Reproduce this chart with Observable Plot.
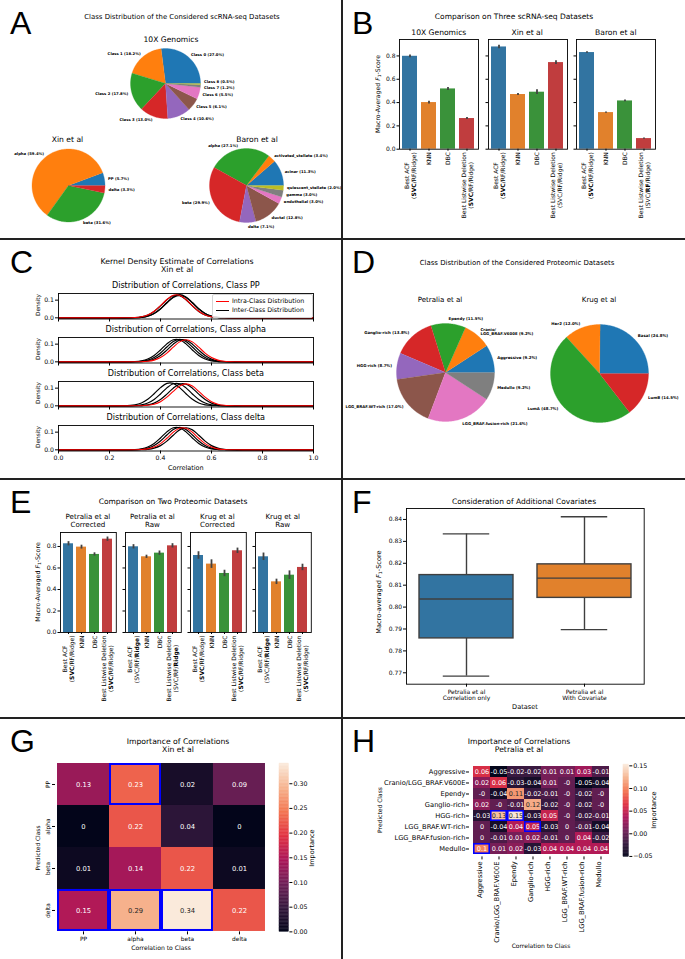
<!DOCTYPE html>
<html><head><meta charset="utf-8">
<script src="https://cdn.jsdelivr.net/npm/d3@7"></script>
<script src="https://cdn.jsdelivr.net/npm/@observablehq/plot@0.6"></script>
<style>
body{margin:0;background:#fff}
#root{position:relative;width:685px;height:959px;overflow:hidden;font-family:"DejaVu Sans",sans-serif;color:#000;background:#fff}
.t{position:absolute;white-space:pre;transform:translate(-50%,-50%);text-align:center;line-height:1.15}
.t.rot{transform:translate(-50%,-50%) rotate(-90deg)}
.letter{position:absolute;font-family:"Liberation Sans",Arial,sans-serif;font-size:32px;line-height:1}
.hl{position:absolute;background:#222}
.sub1{font-size:0.7em;vertical-align:-0.25em}
</style></head>
<body><div id="root"></div>
<script>
// ================= DATA =================
// Panel A
const tenxClasses = ["Class 0","Class 1","Class 2","Class 3","Class 4","Class 5","Class 6","Class 7","Class 8"];
const tenxShares = [27.0,18.2,17.8,13.0,10.6,6.1,5.5,1.2,0.5];
const xinClasses = ["PP","alpha","beta","delta"];
const xinShares = [5.7,59.4,31.6,3.3];
const baronClasses = ["acinar","activated_stellate","alpha","beta","delta","ductal","endothelial","gamma","quiescent_stellate"];
const baronShares = [11.3,3.4,27.1,29.9,7.1,12.8,3.0,3.0,2.0];
// Panel D
const petraliaClasses = ["Aggressive","Cranio/\nLGG_BRAF.V600E","Ependy","Ganglio-rich","HGG-rich","LGG_BRAF.WT-rich","LGG_BRAF.fusion-rich","Medullo"];
const petraliaShares = [9.2,9.2,11.5,13.8,8.7,17.0,21.6,9.2];
const krugClasses = ["Basal","Her2","LumA","LumB"];
const krugShares = [24.8,12.0,48.7,14.5];
// Panel B
const methods = ["Best ACF","KNN","DBC","Best Listwise Deletion"];
const barTicks = [0,0.2,0.4,0.6,0.8];
const scDatasets = ["10X Genomics","Xin et al","Baron et al"];
const scMeans = [[0.797,0.400,0.517,0.263],[0.877,0.469,0.489,0.743],[0.829,0.314,0.414,0.091]];
const scErrs = [[0.012,0.012,0.013,0.008],[0.015,0.008,0.020,0.016],[0.007,0.006,0.008,0.005]];
const scTickLabels = [
  ["Best ACF\n(**SVC**/RF/Ridge)","KNN","DBC","Best Listwise Deletion\n(**SVC**/RF/Ridge)"],
  ["Best ACF\n(**SVC**/RF/Ridge)","KNN","DBC","Best Listwise Deletion\n(SVC/RF/Ridge)"],
  ["Best ACF\n(**SVC**/RF/Ridge)","KNN","DBC","Best Listwise Deletion\n(SVC/**RF**/Ridge)"]];
// Panel E
const protDatasets = ["Petralia et al\nCorrected","Petralia et al\nRaw","Krug et al\nCorrected","Krug et al\nRaw"];
const protMeans = [[0.825,0.794,0.726,0.868],[0.797,0.704,0.738,0.806],[0.716,0.636,0.549,0.760],[0.704,0.471,0.533,0.605]];
const protErrs = [[0.020,0.018,0.015,0.020],[0.020,0.015,0.020,0.020],[0.035,0.040,0.030,0.025],[0.035,0.025,0.040,0.030]];
const protTickLabels = [
  ["Best ACF\n(**SVC**/RF/Ridge)","KNN","DBC","Best Listwise Deletion\n(**SVC**/RF/Ridge)"],
  ["Best ACF\n(SVC/RF/**Ridge**)","KNN","DBC","Best Listwise Deletion\n(SVC/RF/**Ridge**)"],
  ["Best ACF\n(**SVC**/RF/Ridge)","KNN","DBC","Best Listwise Deletion\n(**SVC**/RF/Ridge)"],
  ["Best ACF\n(SVC/RF/**Ridge**)","KNN","DBC","Best Listwise Deletion\n(**SVC**/RF/Ridge)"]];
// Panel C (kernel density curves read at these correlation values; first series = intra-class)
const kdeClasses = ["PP","alpha","beta","delta"];
const kdeX = [0,0.2,0.25,0.3,0.325,0.35,0.375,0.4,0.425,0.45,0.475,0.5,0.525,0.55,0.575,0.6,0.625,0.65,0.7,0.75,1];
const kdePP = [
  [0,0,0.0001,0.0017,0.0058,0.0161,0.0369,0.0686,0.1039,0.1277,0.1277,0.1039,0.0686,0.0369,0.0161,0.0058,0.0017,0.0004,0,0,0],
  [0,0,0,0.0008,0.0031,0.0100,0.0250,0.0517,0.0867,0.1182,0.1310,0.1182,0.0867,0.0517,0.0250,0.0100,0.0031,0.0008,0,0,0],
  [0,0,0.0001,0.0017,0.0057,0.0159,0.0364,0.0676,0.1023,0.1258,0.1258,0.1023,0.0676,0.0364,0.0159,0.0057,0.0017,0.0004,0,0,0],
  [0,0,0,0.0008,0.0030,0.0097,0.0243,0.0502,0.0841,0.1146,0.1270,0.1146,0.0841,0.0502,0.0243,0.0097,0.0030,0.0008,0,0,0]];
const kdeAlpha = [
  [0,0,0,0.0002,0.0008,0.0030,0.0095,0.0239,0.0494,0.0828,0.1128,0.1250,0.1128,0.0828,0.0494,0.0239,0.0095,0.0030,0.0002,0,0],
  [0,0,0.0001,0.0017,0.0056,0.0157,0.0361,0.0671,0.1015,0.1248,0.1248,0.1015,0.0671,0.0361,0.0157,0.0056,0.0017,0.0004,0,0,0],
  [0,0,0,0.0008,0.0030,0.0097,0.0243,0.0502,0.0841,0.1146,0.1270,0.1146,0.0841,0.0502,0.0243,0.0097,0.0030,0.0008,0,0,0],
  [0,0,0,0.0004,0.0016,0.0055,0.0155,0.0355,0.0660,0.0999,0.1229,0.1229,0.0999,0.0660,0.0355,0.0155,0.0055,0.0016,0.0001,0,0]];
const kdeBeta = [
  [0,0,0,0.0002,0.0007,0.0030,0.0094,0.0237,0.0490,0.0821,0.1118,0.1240,0.1118,0.0821,0.0490,0.0237,0.0094,0.0030,0.0002,0,0],
  [0,0,0.0004,0.0057,0.0160,0.0367,0.0681,0.1031,0.1268,0.1268,0.1031,0.0681,0.0367,0.0160,0.0057,0.0017,0.0004,0.0001,0,0,0],
  [0,0,0.0001,0.0017,0.0056,0.0157,0.0361,0.0671,0.1015,0.1248,0.1248,0.1015,0.0671,0.0361,0.0157,0.0056,0.0017,0.0004,0,0,0],
  [0,0,0,0.0004,0.0016,0.0055,0.0155,0.0355,0.0660,0.0999,0.1229,0.1229,0.0999,0.0660,0.0355,0.0155,0.0055,0.0016,0.0001,0,0]];
const kdeDelta = [
  [0,0,0,0.0004,0.0016,0.0055,0.0154,0.0353,0.0655,0.0991,0.1219,0.1219,0.0991,0.0655,0.0353,0.0154,0.0055,0.0016,0.0001,0,0],
  [0,0,0.0001,0.0017,0.0056,0.0157,0.0361,0.0671,0.1015,0.1248,0.1248,0.1015,0.0671,0.0361,0.0157,0.0056,0.0017,0.0004,0,0,0],
  [0,0,0,0.0008,0.0030,0.0097,0.0243,0.0502,0.0841,0.1146,0.1270,0.1146,0.0841,0.0502,0.0243,0.0097,0.0030,0.0008,0,0,0],
  [0,0,0,0.0002,0.0008,0.0030,0.0095,0.0239,0.0494,0.0828,0.1128,0.1250,0.1128,0.0828,0.0494,0.0239,0.0095,0.0030,0.0002,0,0]];
const kdeTicksX = [0,0.2,0.4,0.6,0.8,1.0];
const kdeTicksY = [0,0.1];
// Panel F
const fGroups = ["Petralia et al\nCorrelation only","Petralia et al\nWith Covariate"];
const fLow = [0.7685,0.7897];
const fQ1 = [0.7857,0.8042];
const fMed = [0.8037,0.8132];
const fQ3 = [0.8146,0.8195];
const fHigh = [0.8334,0.8412];
const fTicks = [0.77,0.78,0.79,0.80,0.81,0.82,0.83,0.84];
// Panel G
const gClasses = ["PP","alpha","beta","delta"];
const gValues = [
  [0.13,0.23,0.02,0.09],
  [0,0.22,0.04,0],
  [0.01,0.14,0.22,0.01],
  [0.15,0.29,0.34,0.22]];
const gHighlights = [["PP","alpha"],["delta","PP"],["delta","alpha"],["delta","beta"]];
const gBarTicks = [0,0.05,0.10,0.15,0.20,0.25,0.30];
// Panel H
const hClasses = ["Aggressive","Cranio/LGG_BRAF.V600E","Ependy","Ganglio-rich","HGG-rich","LGG_BRAF.WT-rich","LGG_BRAF.fusion-rich","Medullo"];
const hValues = [
  [0.06,-0.05,-0.02,-0.02,0.01,0.01,0.03,-0.01],
  [0.02,0.06,-0.03,-0.04,0.01,-0,-0.05,-0.04],
  [-0,-0.04,0.11,-0.02,-0.01,-0,-0.02,-0],
  [0.02,-0,-0.01,0.12,-0.02,-0,-0.02,-0],
  [-0.03,0.13,0.15,-0.03,0.05,-0,-0.02,-0.01],
  [0,-0.04,0.04,0.05,-0.03,0,-0.01,-0.04],
  [0,-0.01,0.01,0.02,-0.01,0,0.04,-0.02],
  [0.1,0.01,0.02,-0.03,0.04,0.04,0.04,0.04]];
const hHighlights = [["HGG-rich","Cranio/LGG_BRAF.V600E"],["HGG-rich","Ependy"],["LGG_BRAF.WT-rich","Ganglio-rich"],["Medullo","Aggressive"]];
const hBarTicks = [-0.05,0,0.05,0.10,0.15];

// ================= STYLE =================
const tab10 = ["#1f77b4","#ff7f0e","#2ca02c","#d62728","#9467bd","#8c564b","#e377c2","#7f7f7f","#bcbd22","#17becf"];
const deep = ["#3274a1","#e1812c","#3a923a","#c03d3e"];
const rocketStops = ["#03051a","#35193e","#701f57","#ad1759","#e13342","#f37651","#f6b48f","#faebdd"];
const rocketScale = d3.scaleLinear().domain(d3.range(8).map(i=>i/7)).range(rocketStops).interpolate(d3.interpolateRgb).clamp(true);
const rocket = t => rocketScale(t);

const root = document.getElementById("root");
const baseStyle = fs => ({fontFamily:"DejaVu Sans, sans-serif", fontSize: fs+"px", color:"#000", background:"transparent", overflow:"visible"});
function place(el, x, y){ el.style.position="absolute"; el.style.left=x+"px"; el.style.top=y+"px"; root.appendChild(el); return el; }
function txt(s, x, y, size, opts={}){
  const d=document.createElement("div"); d.className="t"+(opts.rot?" rot":"");
  d.style.left=x+"px"; d.style.top=y+"px"; d.style.fontSize=size+"px";
  if(opts.html) d.innerHTML=s; else d.textContent=s;
  if(opts.lh) d.style.lineHeight=opts.lh;
  root.appendChild(d); return d;
}
function letter(s, x, y){ const d=document.createElement("div"); d.className="letter"; d.textContent=s; d.style.left=x+"px"; d.style.top=y+"px"; root.appendChild(d); }
function hline(y){ const d=document.createElement("div"); d.className="hl"; d.style.left="0px"; d.style.top=y+"px"; d.style.width="685px"; d.style.height="1.6px"; root.appendChild(d); }
function vline(x){ const d=document.createElement("div"); d.className="hl"; d.style.left=x+"px"; d.style.top="0px"; d.style.width="1.6px"; d.style.height="959px"; root.appendChild(d); }
const NS="http://www.w3.org/2000/svg";
function richify(svg){
  svg.querySelectorAll("text, tspan").forEach(node=>{
    if(node.children.length) return;
    const s=node.textContent; if(!s.includes("**")) return;
    node.textContent="";
    s.split(/(\*\*[^*]+\*\*)/).forEach(part=>{
      if(!part) return;
      if(part.startsWith("**")){ const b=document.createElementNS(NS,"tspan"); b.setAttribute("font-weight","bold"); b.textContent=part.slice(2,-2); node.appendChild(b); }
      else node.appendChild(document.createTextNode(part));
    });
  });
}
function hangRotated(svg, pad){
  svg.querySelectorAll('g[aria-label="text"] > text').forEach(t=>{
    const m=/translate\(\s*([-\d.e]+)[ ,]+([-\d.e]+)\s*\)/.exec(t.getAttribute("transform")||"");
    if(!m) return;
    const w=t.getBBox().width;
    t.setAttribute("transform",`translate(${m[1]},${+m[2]+pad+w/2}) rotate(-90)`);
  });
}
function lum(c){ const {r,g,b}=d3.rgb(c); const f=v=>{v/=255; return v<=0.03928? v/12.92 : Math.pow((v+0.055)/1.055,2.4);}; return 0.2126*f(r)+0.7152*f(g)+0.0722*f(b); }
function annotColor(v, dom){ return lum(rocket((v-dom[0])/(dom[1]-dom[0])))>0.408 ? "#262626" : "#ffffff"; }
const fmtV = v => Object.is(v,-0) ? "-0" : String(v);

// ================= MARK HELPERS =================
function pie(p){
  const W=p.w, H=p.h, total=d3.sum(p.shares);
  let cum=0; const pts=[], labs=[];
  p.names.forEach((n,i)=>{
    const a0=cum/total*2*Math.PI; cum+=p.shares[i]; const a1=cum/total*2*Math.PI;
    const steps=Math.max(2,Math.ceil((a1-a0)/0.02));
    pts.push({i,x:0,y:0});
    for(let s=0;s<=steps;s++){ const a=a0+(a1-a0)*s/steps; pts.push({i,x:Math.cos(a),y:Math.sin(a)}); }
    const am=(a0+a1)/2;
    labs.push({t:`${n} (${p.shares[i].toFixed(1)}%)`, x:1.1*Math.cos(am), y:1.1*Math.sin(am), lines:n.split("\n").length});
  });
  // keep neighbouring small-slice labels on the same side from overlapping
  const gap=p.fs*1.75/p.r;
  [labs.filter(d=>d.x>=0), labs.filter(d=>d.x<0)].forEach(side=>{
    side.sort((a,b)=>b.y-a.y);
    for(let k=1;k<side.length;k++){
      const need=gap*(side[k-1].lines+side[k].lines)/2;
      if(side[k-1].y-side[k].y<need){
        const shift=(need-(side[k-1].y-side[k].y))/2;
        side[k-1].y+=shift; side[k].y-=shift;
        for(let j=k-1;j>0;j--){ const nj=gap*(side[j-1].lines+side[j].lines)/2; if(side[j-1].y-side[j].y<nj) side[j-1].y=side[j].y+nj; }
      }
    }
  });
  const hx=W/2/p.r, hy=H/2/p.r;
  const svg=Plot.plot({width:W,height:H,margin:0,style:baseStyle(p.fs),
    x:{domain:[-hx,hx],axis:null}, y:{domain:[-hy,hy],axis:null},
    color:{type:"ordinal",domain:d3.range(p.names.length),range:tab10},
    marks:[
      Plot.line(pts,{x:"x",y:"y",z:"i",fill:"i",stroke:"i",strokeWidth:0.3}),
      Plot.text(labs.filter(d=>d.x>=0),{x:"x",y:"y",text:"t",textAnchor:"start",fontSize:p.fs,fontWeight:"bold",lineHeight:1.15}),
      Plot.text(labs.filter(d=>d.x<0),{x:"x",y:"y",text:"t",textAnchor:"end",fontSize:p.fs,fontWeight:"bold",lineHeight:1.15})
    ]});
  place(svg,p.cx-W/2,p.cy-H/2);
}
function barPanel(p){
  const ml=30, mr=4, mt=4, mb=100;
  const rows=methods.map((c,i)=>({c,v:p.vals[i],e:p.errs[i],lab:p.labels[i]}));
  const svg=Plot.plot({width:p.fw+ml+mr,height:p.fh+mt+mb,marginLeft:ml,marginRight:mr,marginTop:mt,marginBottom:mb,
    style:baseStyle(6),
    x:{domain:methods,paddingInner:0.2,paddingOuter:0.1,label:null},
    y:{domain:[0,p.ymax],label:null},
    color:{domain:methods,range:deep},
    marks:[
      Plot.barY(rows,{x:"c",y:"v",fill:"c"}),
      Plot.ruleX(rows,{x:"c",y1:d=>d.v-d.e,y2:d=>d.v+d.e,stroke:"#424242",strokeWidth:1.8}),
      Plot.frame({stroke:"#000",strokeWidth:0.9}),
      Plot.axisY({ticks:barTicks,tickSize:2.5,tickPadding:1.5,tickFormat:p.showY?(d=>d.toFixed(1)):(()=>""),fontSize:p.tickFs,label:null}),
      Plot.axisX({tickSize:2,tickFormat:()=>"",label:null}),
      Plot.text(rows,{x:"c",text:"lab",frameAnchor:"bottom",rotate:-90,textAnchor:"middle",lineAnchor:"middle",lineHeight:1.15,fontSize:p.lblFs})
    ]});
  place(svg,p.fx-ml,p.fy-mt);
  richify(svg);
  hangRotated(svg,3);
}
function kdePlot(fy, series, showX){
  const ml=30, mr=4, mt=2, mb=14, fw=255, fh=25.5, fx=58.3;
  const rows=series.flatMap((vals,s)=>kdeX.map((x,k)=>({s,x,y:vals[k]})));
  const svg=Plot.plot({width:fw+ml+mr,height:fh+mt+mb,marginLeft:ml,marginRight:mr,marginTop:mt,marginBottom:mb,style:baseStyle(6.2),
    x:{domain:[0,1],label:null}, y:{domain:[-0.0066,0.1376],label:null},
    marks:[
      Plot.line(rows.filter(d=>d.s>0),{x:"x",y:"y",z:"s",stroke:"#000",strokeWidth:1.2,curve:"catmull-rom"}),
      Plot.line(rows.filter(d=>d.s===0),{x:"x",y:"y",stroke:"#ff0000",strokeWidth:1.1,curve:"catmull-rom"}),
      Plot.frame({stroke:"#000",strokeWidth:0.9}),
      Plot.axisY({ticks:kdeTicksY,tickFormat:d=>d.toFixed(1),tickSize:3,tickPadding:1.5,label:null}),
      Plot.axisX({ticks:kdeTicksX,tickFormat:showX?(d=>d.toFixed(1)):(()=>""),tickSize:3,tickPadding:1.5,label:null})
    ]});
  place(svg,fx-ml,fy-mt);
}
function heatmap(p){
  const ml=p.ml, mr=4, mt=4, mb=p.mb;
  const cells=p.rows.flatMap((r,i)=>p.cols.map((c,j)=>({r,c,v:p.vals[i][j]})));
  const hl=p.hl.map(([r,c])=>({r,c}));
  const marks=[
    Plot.cell(cells,{x:"c",y:"r",fill:"v"}),
    Plot.text(cells,{x:"c",y:"r",text:d=>fmtV(d.v),fill:d=>annotColor(d.v,p.domain),fontSize:p.annFs}),
    Plot.cell(hl,{x:"c",y:"r",fill:"none",stroke:"#0000ff",strokeWidth:p.hlW,inset:p.hlW/2})
  ];
  if(p.rotX){
    marks.push(Plot.axisX({tickSize:3,tickFormat:()=>"",label:null}));
    marks.push(Plot.text(p.cols,{x:d=>d,text:d=>d,frameAnchor:"bottom",rotate:-90,textAnchor:"end",dy:4.5,fontSize:p.tickFs}));
  } else {
    marks.push(Plot.axisX({tickSize:3,tickPadding:1.5,fontSize:p.tickFs,label:null}));
  }
  if(p.rotY){
    marks.push(Plot.axisY({tickSize:3,tickFormat:()=>"",label:null}));
    marks.push(Plot.text(p.rows,{y:d=>d,text:d=>d,frameAnchor:"left",rotate:-90,textAnchor:"middle",dx:-7.5,fontSize:p.tickFs}));
  } else {
    marks.push(Plot.axisY({tickSize:3,tickPadding:1,fontSize:p.tickFs,label:null}));
  }
  const svg=Plot.plot({width:p.fw+ml+mr,height:p.fh+mt+mb,marginLeft:ml,marginRight:mr,marginTop:mt,marginBottom:mb,style:baseStyle(p.tickFs),
    x:{domain:p.cols,padding:0,label:null}, y:{domain:p.rows,padding:0,label:null},
    color:{type:"linear",domain:p.domain,interpolate:rocket},
    marks});
  place(svg,p.fx-ml,p.fy-mt);
}
function colorbar(p){
  const ml=2, mr=40, mt=4, mb=6;
  const [lo,hi]=p.domain, N=120;
  const bins=d3.range(N).map(i=>({y1:lo+(hi-lo)*i/N,y2:lo+(hi-lo)*(i+1)/N}));
  const svg=Plot.plot({width:p.fw+ml+mr,height:p.fh+mt+mb,marginLeft:ml,marginRight:mr,marginTop:mt,marginBottom:mb,style:baseStyle(p.fs),
    x:{domain:[0,1],axis:null}, y:{domain:p.domain,label:null},
    color:{type:"linear",domain:p.domain,interpolate:rocket},
    marks:[
      Plot.rect(bins,{x1:0,x2:1,y1:"y1",y2:"y2",fill:d=>(d.y1+d.y2)/2,stroke:d=>(d.y1+d.y2)/2,strokeWidth:0.4}),
      Plot.axisY({anchor:"right",ticks:p.ticks,tickFormat:d3.format(".2f"),tickSize:3,tickPadding:1.5,fontSize:p.fs,label:null})
    ]});
  place(svg,p.fx-ml,p.fy-mt);
}

// ================= PANEL A =================
letter("A",10,7);
txt("Class Distribution of the Considered scRNA-seq Datasets",182,17.5,6.9);
txt("10X Genomics",171,40,7.6);
txt("Xin et al",67.5,139.5,7.6);
txt("Baron et al",257,139.5,7.6);
pie({names:tenxClasses,shares:tenxShares,cx:165,cy:83,r:35,w:200,h:100,fs:3.8});
pie({names:xinClasses,shares:xinShares,cx:68,cy:185,r:36.5,w:170,h:100,fs:3.8});
pie({names:baronClasses,shares:baronShares,cx:245.5,cy:185,r:37,w:200,h:100,fs:3.8});

// ================= PANEL B =================
letter("B",352,7);
txt("Comparison on Three scRNA-seq Datasets",514,17,7.5);
const bFx=[399.3,487.7,576.3];
scDatasets.forEach((ds,k)=>{
  txt(ds,bFx[k]+39.5,33,7.6);
  barPanel({fx:bFx[k],fy:39.3,fw:79,fh:109.7,ymax:0.941,vals:scMeans[k],errs:scErrs[k],labels:scTickLabels[k],showY:k===0,tickFs:6,lblFs:6});
});
txt('Macro-Averaged <i>F</i><span class="sub1">1</span>-Score',378,94,6.2,{rot:true,html:true});

// ================= PANEL C =================
letter("C",10,246);
txt("Kernel Density Estimate of Correlations\nXin et al",177,266.5,7.8,{lh:"1.12"});
const cTops=[292.7,336.7,380.7,424.7];
const cSeries=[kdePP,kdeAlpha,kdeBeta,kdeDelta];
kdeClasses.forEach((cl,k)=>{
  txt(`Distribution of Correlations, Class ${cl}`,185.8,cTops[k]-6.7,8.1);
  kdePlot(cTops[k],cSeries[k],k===3);
  txt("Density",37.5,cTops[k]+12.7,5.8,{rot:true});
});
txt("Correlation",185.8,469,6.5);
{
  const lg=document.createElement("div");
  lg.style.cssText="position:absolute;left:212px;top:293.5px;width:99px;height:22px;border:0.8px solid #d5d5d5;border-radius:2px;background:rgba(255,255,255,0.85);font-size:6.3px;line-height:1";
  lg.innerHTML='<div style="position:absolute;left:3px;top:6px;width:13px;height:1.3px;background:#ff0000"></div>'+
    '<div style="position:absolute;left:19px;top:3.5px;white-space:pre">Intra-Class Distribution</div>'+
    '<div style="position:absolute;left:3px;top:15px;width:13px;height:1.5px;background:#000"></div>'+
    '<div style="position:absolute;left:19px;top:12.5px;white-space:pre">Inter-Class Distribution</div>';
  root.appendChild(lg);
}

// ================= PANEL D =================
letter("D",352,246);
txt("Class Distribution of the Considered Proteomic Datasets",517,263,6.95);
txt("Petralia et al",440,300,7.1);
txt("Krug et al",599,300,7.1);
pie({names:petraliaClasses,shares:petraliaShares,cx:444.5,cy:371.5,r:49,w:260,h:140,fs:3.9});
pie({names:krugClasses,shares:krugShares,cx:599,cy:372.5,r:49,w:200,h:140,fs:3.9});

// ================= PANEL E =================
letter("E",10,486);
txt("Comparison on Two Proteomic Datasets",173,502,7.5);
const eFx=[60,124.5,189.5,254.8];
protDatasets.forEach((ds,k)=>{
  txt(ds,eFx[k]+27.9,521,7.1,{lh:"1.1"});
  barPanel({fx:eFx[k],fy:531.7,fw:55.8,fh:100,ymax:0.930,vals:protMeans[k],errs:protErrs[k],labels:protTickLabels[k],showY:k===0,tickFs:6.2,lblFs:6});
});
txt('Macro-Averaged <i>F</i><span class="sub1">1</span>-Score',38,581.5,6.3,{rot:true,html:true});

// ================= PANEL F =================
letter("F",352,486);
txt("Consideration of Additional Covariates",524,502,7.5);
{
  const ml=30, mr=4, mt=4, mb=30, fx=406.3, fy=508.3, fw=237.7, fh=175.7;
  const rowsF=fGroups.map((g,i)=>({g,lo:fLow[i],q1:fQ1[i],med:fMed[i],q3:fQ3[i],hi:fHigh[i]}));
  const cap=fw/2*0.8/4;
  const st={stroke:"#3f3f3f",strokeWidth:1.4};
  const svg=Plot.plot({width:fw+ml+mr,height:fh+mt+mb,marginLeft:ml,marginRight:mr,marginTop:mt,marginBottom:mb,style:baseStyle(6),
    x:{domain:fGroups,paddingInner:0.2,paddingOuter:0.1,label:null},
    y:{domain:[0.7648,0.8450],label:null},
    color:{domain:fGroups,range:deep.slice(0,2)},
    marks:[
      Plot.ruleX(rowsF,{x:"g",y1:"lo",y2:"q1",...st}),
      Plot.ruleX(rowsF,{x:"g",y1:"q3",y2:"hi",...st}),
      Plot.tickY(rowsF,{x:"g",y:"lo",insetLeft:cap,insetRight:cap,...st}),
      Plot.tickY(rowsF,{x:"g",y:"hi",insetLeft:cap,insetRight:cap,...st}),
      Plot.barY(rowsF,{x:"g",y1:"q1",y2:"q3",fill:"g",...st}),
      Plot.tickY(rowsF,{x:"g",y:"med",...st}),
      Plot.frame({stroke:"#000",strokeWidth:0.9}),
      Plot.axisY({ticks:fTicks,tickFormat:d=>d.toFixed(2),tickSize:3,tickPadding:1.5,label:null}),
      Plot.axisX({tickSize:3,tickPadding:1.5,lineHeight:1.15,label:null})
    ]});
  place(svg,fx-ml,fy-mt);
}
txt('Macro-averaged <i>F</i><span class="sub1">1</span>-Score',380,592,6.6,{rot:true,html:true});
txt("Dataset",525,708,6.6);

// ================= PANEL G =================
letter("G",10,725);
txt("Importance of Correlations\nXin et al",178,746.5,7.7,{lh:"1.12"});
heatmap({rows:gClasses,cols:gClasses,vals:gValues,hl:gHighlights,domain:[0,0.341],fx:55,fy:763.3,fw:211.7,fh:168.4,ml:30,mb:20,annFs:6.8,tickFs:5.9,hlW:2,rotX:false,rotY:true});
colorbar({domain:[0,0.341],ticks:gBarTicks,fx:279.3,fy:763.3,fw:9.4,fh:168.4,fs:6.3});
txt("Predicted Class",38,848,5.9,{rot:true});
txt("Correlation to Class",161,947,6.1);
txt("Importance",313,848,6.5,{rot:true});

// ================= PANEL H =================
letter("H",352,725);
txt("Importance of Correlations\nPetralia et al",519,746.5,7.7,{lh:"1.12"});
heatmap({rows:hClasses,cols:hClasses,vals:hValues,hl:hHighlights,domain:[-0.051,0.153],fx:469.3,fy:764.3,fw:143.4,fh:92.4,ml:100,mb:90,annFs:6.5,tickFs:6.7,hlW:1.6,rotX:true,rotY:false});
colorbar({domain:[-0.051,0.153],ticks:hBarTicks,fx:623.3,fy:764.3,fw:5.3,fh:92.4,fs:6.3});
txt("Predicted Class",380,810,6,{rot:true});
txt("Importance",655,810,6.5,{rot:true});
txt("Correlation to Class",541,946,6);

// ================= DIVIDERS =================
hline(238.3); hline(478.3); hline(717.3); vline(341.2);
</script>
</body></html>
